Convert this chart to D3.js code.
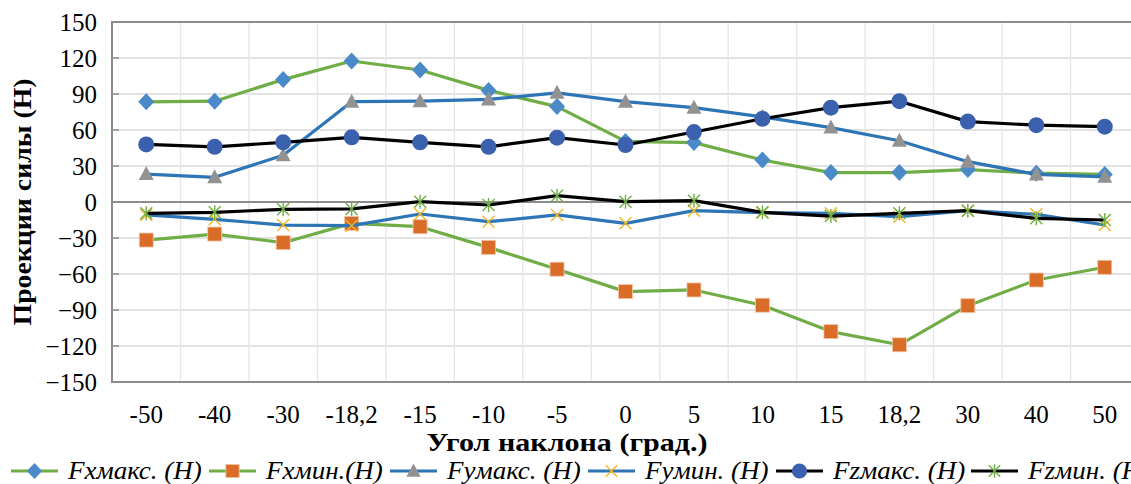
<!DOCTYPE html>
<html>
<head>
<meta charset="utf-8">
<script src="https://cdn.jsdelivr.net/npm/d3@7"></script>
<style>
  html, body { margin: 0; padding: 0; background: #fff; overflow: hidden; }
  svg text { font-family: "Liberation Serif", "Times New Roman", "DejaVu Serif", serif; }
</style>
</head>
<body>
<svg id="chart" width="1131" height="484"></svg>
<script>
// Tilt angle categories (degrees)
const categories = ["-50", "-40", "-30", "-18,2", "-15", "-10", "-5", "0", "5", "10", "15", "18,2", "30", "40", "50"];

// Force projections, N
const fxMax = [83.5, 84, 102, 117.5, 110, 93, 79.5, 50.5, 49.5, 35, 24.5, 24.5, 27, 24, 23];
const fxMin = [-31.7, -26.7, -33.9, -17.8, -20.6, -37.8, -56, -74.7, -73.3, -86, -108, -119, -86.4, -65, -54.4];
const fyMax = [23.3, 20.6, 39, 83.6, 84, 85.5, 91, 83.6, 78.6, 71, 62, 51, 33.6, 23, 21];
const fyMin = [-10.8, -14.4, -19.2, -19.7, -10, -16.4, -10.8, -17.8, -7.2, -8.9, -9.4, -12.2, -7.2, -10.3, -19.2];
const fzMax = [48, 46, 49.7, 53.9, 49.7, 46, 53.6, 47.5, 58.3, 69.4, 78.6, 84, 67, 64, 62.8];
const fzMin = [-9.4, -8.6, -6.1, -5.8, 0.3, -2.5, 5.3, 0.3, 1.1, -8.6, -11.7, -9.4, -7.2, -13.6, -15];

const yTicks = [150, 120, 90, 60, 30, 0, -30, -60, -90, -120, -150];

const series = [
  { name: "Fxмакс. (H)", values: fxMax, line: "#70AD47", marker: "diamond",  fill: "#4A8AC8" },
  { name: "Fxмин.(H)",   values: fxMin, line: "#70AD47", marker: "square",   fill: "#D96C27" },
  { name: "Fyмакс. (H)", values: fyMax, line: "#2E75B6", marker: "triangle", fill: "#929292" },
  { name: "Fyмин. (H)",  values: fyMin, line: "#2E75B6", marker: "x",        fill: "#F2B625" },
  { name: "Fzмакс. (H)", values: fzMax, line: "#000000", marker: "circle",   fill: "#3A60AE" },
  { name: "Fzмин. (H)",  values: fzMin, line: "#000000", marker: "star",     fill: "#70AD47" }
];

const FONT = "'Liberation Serif', 'Times New Roman', 'DejaVu Serif', serif";

const svg = d3.select("#chart");
const plot = { left: 112, top: 22, right: 1139, bottom: 382 };

const x = d3.scaleBand().domain(categories).range([plot.left, plot.right]);
const y = d3.scaleLinear().domain([-150, 150]).range([plot.bottom, plot.top]);
const cx = d => x(d) + x.bandwidth() / 2;

// Gridlines
const grid = svg.append("g");
grid.selectAll("line.h").data(yTicks).join("line")
  .attr("x1", plot.left).attr("x2", plot.right)
  .attr("y1", d => y(d)).attr("y2", d => y(d))
  .attr("stroke", "#D9D9D9").attr("stroke-width", 1.3);
grid.selectAll("line.v").data(categories.slice(1)).join("line")
  .attr("x1", d => x(d)).attr("x2", d => x(d))
  .attr("y1", plot.top).attr("y2", plot.bottom)
  .attr("stroke", "#E6E6E6").attr("stroke-width", 1.3);

// Plot frame
svg.append("rect")
  .attr("x", plot.left).attr("y", plot.top)
  .attr("width", plot.right - plot.left).attr("height", plot.bottom - plot.top)
  .attr("fill", "none").attr("stroke", "#8C8C8C").attr("stroke-width", 2);

// Zero line
svg.append("line")
  .attr("x1", plot.left).attr("x2", plot.right)
  .attr("y1", y(0)).attr("y2", y(0))
  .attr("stroke", "#8C8C8C").attr("stroke-width", 2);

// Y axis
const yAxis = svg.append("g")
  .attr("transform", `translate(${plot.left},0)`)
  .call(d3.axisLeft(y).tickValues(yTicks).tickSize(0).tickPadding(15));
yAxis.attr("font-family", FONT);
yAxis.select(".domain").remove();
yAxis.selectAll("text").attr("font-size", 25).attr("fill", "#000")
  .style("font-family", FONT);
// inner tick marks
svg.append("g").selectAll("line").data(yTicks).join("line")
  .attr("x1", plot.left).attr("x2", plot.left + 7)
  .attr("y1", d => y(d)).attr("y2", d => y(d))
  .attr("stroke", "#8C8C8C").attr("stroke-width", 1.5);

// X axis labels
const xAxis = svg.append("g")
  .attr("transform", `translate(0,${plot.bottom})`)
  .call(d3.axisBottom(x).tickSize(0).tickPadding(23));
xAxis.attr("font-family", FONT);
xAxis.select(".domain").remove();
xAxis.selectAll("text").attr("font-size", 25).attr("fill", "#000")
  .style("font-family", FONT);

// Axis titles
svg.append("text")
  .attr("x", 567).attr("y", 451)
  .attr("text-anchor", "middle")
  .attr("font-size", 26).attr("font-weight", "bold")
  .attr("textLength", 281).attr("lengthAdjust", "spacingAndGlyphs")
  .style("font-family", FONT)
  .text("Угол наклона (град.)");
svg.append("text")
  .attr("transform", `translate(31,${y(0)}) rotate(-90)`)
  .attr("text-anchor", "middle")
  .attr("font-size", 25).attr("font-weight", "bold")
  .attr("textLength", 247).attr("lengthAdjust", "spacingAndGlyphs")
  .style("font-family", FONT)
  .text("Проекции силы (Н)");

// Marker drawing
function drawMarker(g, type, fill, px, py, scale = 1) {
  const s = scale;
  if (type === "diamond") {
    g.append("path")
      .attr("d", `M${px},${py - 8.5 * s}L${px + 8 * s},${py}L${px},${py + 8.5 * s}L${px - 8 * s},${py}Z`)
      .attr("fill", fill);
  } else if (type === "square") {
    g.append("rect")
      .attr("x", px - 7 * s).attr("y", py - 7 * s)
      .attr("width", 14 * s).attr("height", 14 * s)
      .attr("fill", fill).attr("stroke", "#F3C6A8").attr("stroke-width", 0.8);
  } else if (type === "triangle") {
    g.append("path")
      .attr("d", `M${px},${py - 8 * s}L${px + 7.5 * s},${py + 6 * s}L${px - 7.5 * s},${py + 6 * s}Z`)
      .attr("fill", fill);
  } else if (type === "circle") {
    g.append("circle").attr("cx", px).attr("cy", py).attr("r", 8 * s).attr("fill", fill);
  } else if (type === "x") {
    const r = 6 * s;
    g.append("path")
      .attr("d", `M${px - r},${py - r}L${px + r},${py + r}M${px - r},${py + r}L${px + r},${py - r}`)
      .attr("stroke", fill).attr("stroke-width", 1.4).attr("fill", "none");
  } else if (type === "star") {
    const r = 6 * s;
    g.append("path")
      .attr("d", `M${px - r},${py - r}L${px + r},${py + r}M${px - r},${py + r}L${px + r},${py - r}M${px},${py - r - 1}L${px},${py + r + 1}`)
      .attr("stroke", fill).attr("stroke-width", 1.4).attr("fill", "none");
  }
}

const line = d3.line().x((d, i) => cx(categories[i])).y(d => y(d));

// Each series: line, then its markers
series.forEach(s => {
  const g = svg.append("g");
  g.append("path")
    .attr("d", line(s.values))
    .attr("fill", "none")
    .attr("stroke", s.line)
    .attr("stroke-width", 3.2)
    .attr("stroke-linejoin", "round");
  s.values.forEach((v, i) => drawMarker(g, s.marker, s.fill, cx(categories[i]), y(v)));
});

// Legend (runs past the right edge of the 1131px canvas)
const legendX = [11, 209, 390, 588, 776, 971];
const legend = svg.append("g");
series.forEach((s, i) => {
  const lx = legendX[i], ly = 471;
  legend.append("line")
    .attr("x1", lx).attr("x2", lx + 47)
    .attr("y1", ly).attr("y2", ly)
    .attr("stroke", s.line).attr("stroke-width", 3.2);
  drawMarker(legend, s.marker, s.fill, lx + 23.5, ly, 0.95);
  const t = legend.append("text")
    .attr("x", lx + 57).attr("y", ly + 8)
    .attr("font-size", 25).attr("font-style", "italic")
    .style("font-family", FONT)
    .text(s.name);
  // slightly widen the italic labels
  const w = t.node().getComputedTextLength();
  t.attr("textLength", w * 1.08).attr("lengthAdjust", "spacingAndGlyphs");
});

// Lay out every label once so the serif face is resolved before painting
svg.selectAll("text").each(function () { this.getComputedTextLength(); });
</script>
</body>
</html>
